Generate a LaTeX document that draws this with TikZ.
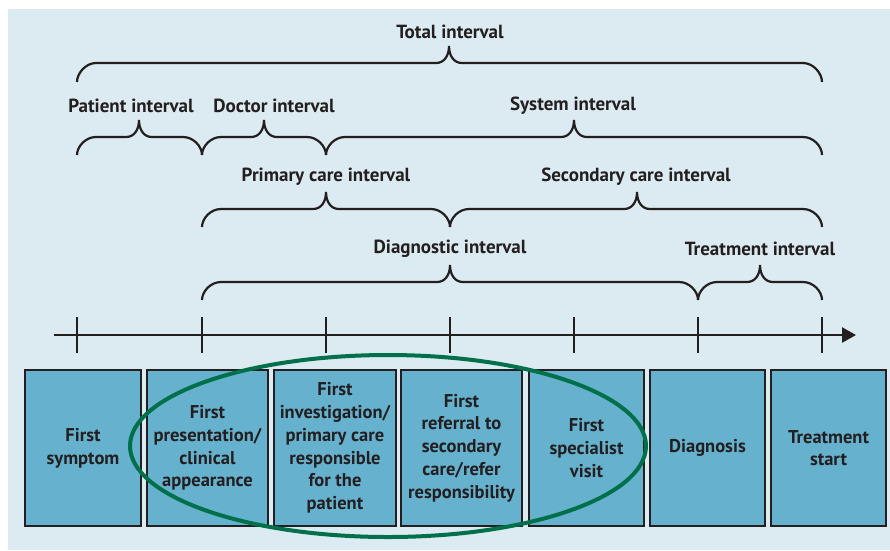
\documentclass[tikz,border=0pt]{standalone}
\usepackage{fontspec}
\setmainfont{PT Sans}
\usetikzlibrary{arrows.meta}
\definecolor{bgblue}{HTML}{DCEAF1}
\definecolor{boxblue}{HTML}{66B2CE}
\definecolor{ink}{HTML}{231F20}
\definecolor{ellgreen}{HTML}{00704A}
\newcommand\ibrace[6]{% x1 x2 tip yline ytip yend
  \draw[bracestyle] (#1,#6) .. controls (#1,#6-8.5) and (#1+8.5,#4) .. (#1+19,#4)
    -- (#3-13,#4) .. controls (#3-5,#4) and (#3,#4-7) .. (#3,#5)
    .. controls (#3,#4-7) and (#3+5,#4) .. (#3+13,#4)
    -- (#2-19,#4) .. controls (#2-8.5,#4) and (#2,#6-8.5) .. (#2,#6);}
\begin{document}
\begin{tikzpicture}[x=1pt,y=-1pt,
  bracestyle/.style={draw=ink,line width=2.2pt},
  lbl/.style={text=ink,font=\fontsize{19}{22}\selectfont\bfseries,inner sep=0pt},
  stage/.style={draw=ink,fill=boxblue,line width=2pt,inner sep=0pt,anchor=north west,
    minimum height=156pt},
  stagetext/.style={text=ink,align=center,font=\fontsize{18.5}{22.7}\selectfont\bfseries,inner sep=0pt},
  tick/.style={draw=ink,line width=2pt}]
\useasboundingbox (0,0) rectangle (890,550);
\fill[bgblue] (8,9) rectangle (890,550);
% labels
\node[lbl] (ltotal) at (450,32) {Total interval};
\node[lbl] (lpat) at (131,106) {Patient interval};
\node[lbl] (ldoc) at (274,106) {Doctor interval};
\node[lbl] (lsys) at (573,106) {System interval};
\node[lbl] (lprim) at (326,177) {Primary care interval};
\node[lbl] (lsec) at (636,177) {Secondary care interval};
\node[lbl] (ldiag) at (450,249) {Diagnostic interval};
\node[lbl] (ltreat) at (760,249) {Treatment interval};
% braces
\ibrace{77}{822}{449}{63}{46}{82}
\ibrace{77}{202}{139}{137}{120}{155}
\ibrace{202}{326}{264}{137}{120}{155}
\ibrace{326}{822}{574}{137}{120}{155}
\ibrace{202}{450}{326}{209}{192}{227}
\ibrace{450}{822}{637}{209}{192}{227}
\ibrace{202}{698}{450}{282}{265}{300}
\ibrace{698}{822}{760}{282}{265}{300}
% axis
\coordinate (axs) at (54,335);
\coordinate (axe) at (856,335);
\draw[ink,line width=2.5pt,-{Triangle[length=14pt,width=15pt]}] (axs) -- (axe);
\foreach \x in {77,202,326,450,574,698,822}
  \draw[tick] (\x,317) -- (\x,353);
% boxes
\node[stage,minimum width=116pt] (b1) at (24,369) {};
\node[stage,minimum width=121pt] (b2) at (146,369) {};
\node[stage,minimum width=122pt] (b3) at (273,369) {};
\node[stage,minimum width=121pt] (b4) at (400,369) {};
\node[stage,minimum width=115pt] (b5) at (528,369) {};
\node[stage,minimum width=115pt] (b6) at (649,369) {};
\node[stage,minimum width=115pt] (b7) at (770,369) {};
\foreach \b/\t in {b1/{First\\symptom},b2/{First\\presentation/\\clinical\\appearance},
  b3/{First\\investigation/\\primary care\\responsible\\for the\\patient},
  b4/{First\\referral to\\secondary\\care/refer\\responsibility},
  b5/{First\\specialist\\visit},b6/{Diagnosis},b7/{Treatment\\start}}
  \node[stagetext] (\b t) at (\b.center) {\t};
% ellipse
\draw[ellgreen,line width=4pt] (388,446) ellipse [x radius=258, y radius=91];
\end{tikzpicture}
\end{document}
